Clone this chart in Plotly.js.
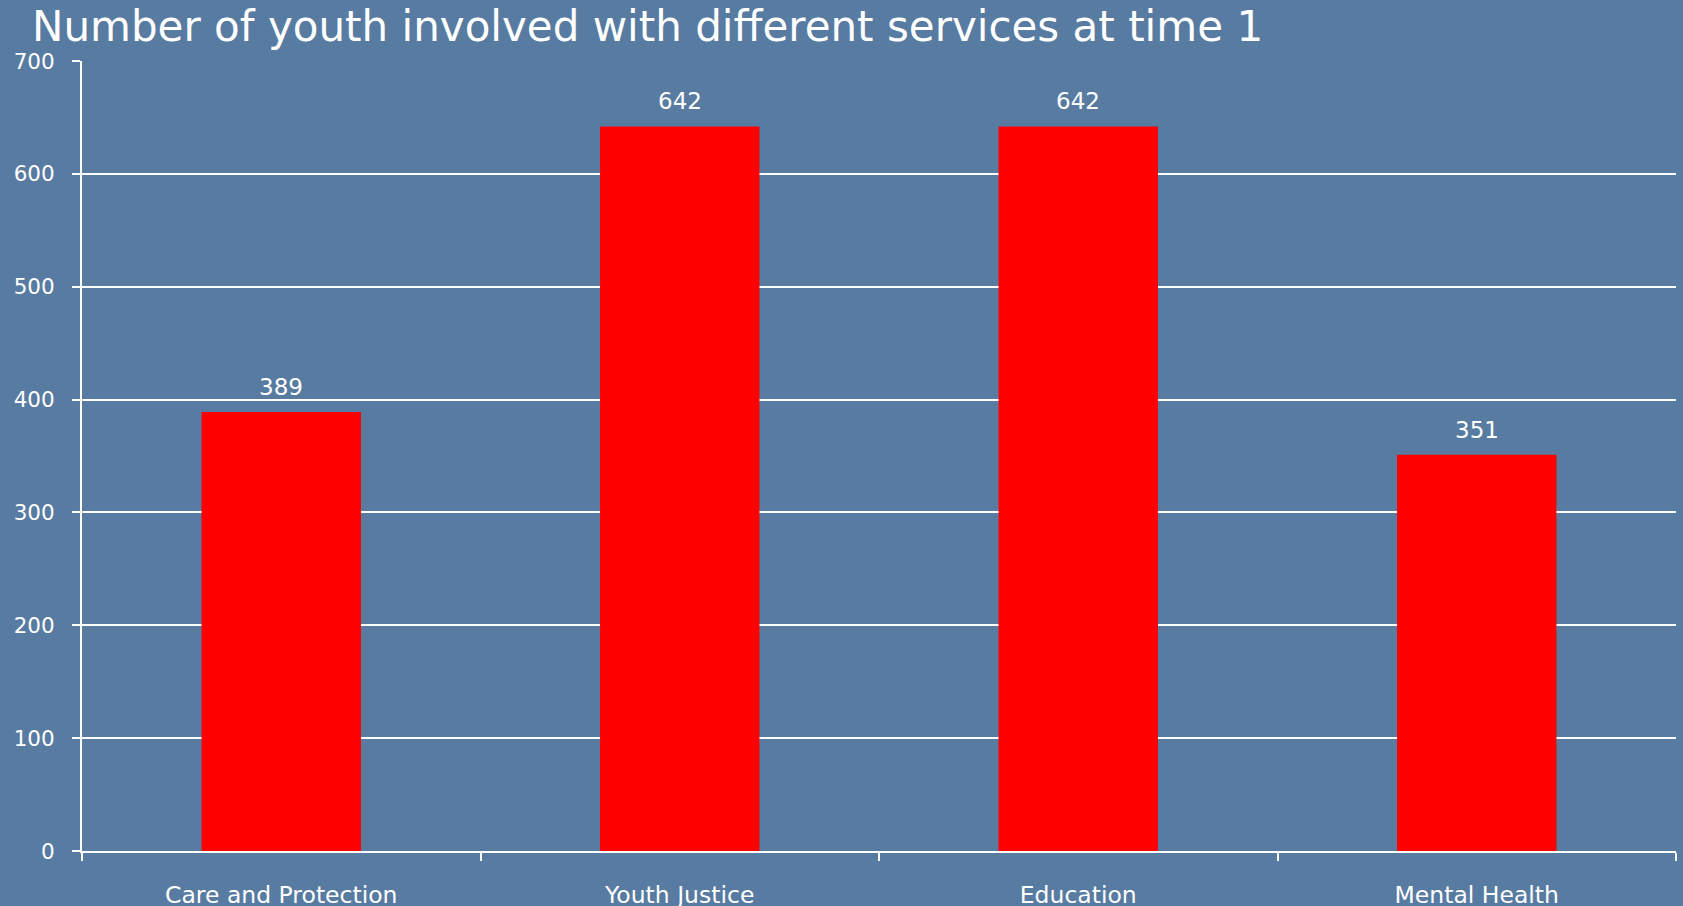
<!DOCTYPE html>
<html>
<head>
<meta charset="utf-8">
<script src="https://cdn.plot.ly/plotly-3.0.1.min.js"></script>
<style>
  html, body { margin: 0; padding: 0; background: #587ba1; }
  #chart { width: 1683px; height: 906px; }
</style>
</head>
<body>
<div id="chart"></div>
<script>
const categories = ["Care and Protection", "Youth Justice", "Education", "Mental Health"];
const values = [389, 642, 642, 351];
const yTicks = [0, 100, 200, 300, 400, 500, 600, 700];
const chartTitle = "Number of youth involved with different services at time 1";

const FONT = "DejaVu Sans, Verdana, sans-serif";

const trace = {
  type: "bar",
  x: categories,
  y: values,
  marker: { color: "#ff0000", line: { width: 0 } },
  hoverinfo: "x+y"
};

const annotations = categories.map((c, i) => ({
  x: c,
  y: values[i],
  xref: "x",
  yref: "y",
  text: String(values[i]),
  showarrow: false,
  yanchor: "bottom",
  yshift: 10,
  font: { family: FONT, size: 23, color: "#ffffff" }
}));

const layout = {
  width: 1683,
  height: 906,
  paper_bgcolor: "#587ba1",
  plot_bgcolor: "rgba(0,0,0,0)",
  margin: { l: 82, r: 7, t: 61, b: 55, pad: 0 },
  showlegend: false,
  bargap: 0.6,
  title: {
    text: chartTitle,
    font: { family: FONT, size: 42, color: "#ffffff" },
    x: 32 / 1683,
    xref: "container",
    xanchor: "left",
    y: 1 - 26 / 906,
    yref: "container",
    yanchor: "middle"
  },
  xaxis: {
    type: "category",
    range: [-0.5, 3.5],
    showgrid: false,
    showline: true,
    linecolor: "#ffffff",
    linewidth: 2,
    ticks: "outside",
    tickson: "boundaries",
    ticklen: 8,
    tickwidth: 2,
    tickcolor: "#ffffff",
    ticklabelstandoff: 22,
    tickfont: { family: FONT, size: 23.5, color: "#ffffff" },
    zeroline: false,
    fixedrange: true
  },
  yaxis: {
    range: [0, 700],
    tickvals: yTicks,
    ticktext: yTicks.map(String),
    showgrid: true,
    gridcolor: "#ffffff",
    gridwidth: 2,
    showline: true,
    linecolor: "#ffffff",
    linewidth: 2,
    ticks: "outside",
    ticklen: 8,
    tickwidth: 2,
    tickcolor: "#ffffff",
    ticklabelstandoff: 13,
    tickfont: { family: FONT, size: 21.5, color: "#ffffff" },
    zeroline: false,
    fixedrange: true
  },
  annotations: annotations
};

Plotly.newPlot("chart", [trace], layout, { displayModeBar: false, staticPlot: true });
</script>
</body>
</html>
